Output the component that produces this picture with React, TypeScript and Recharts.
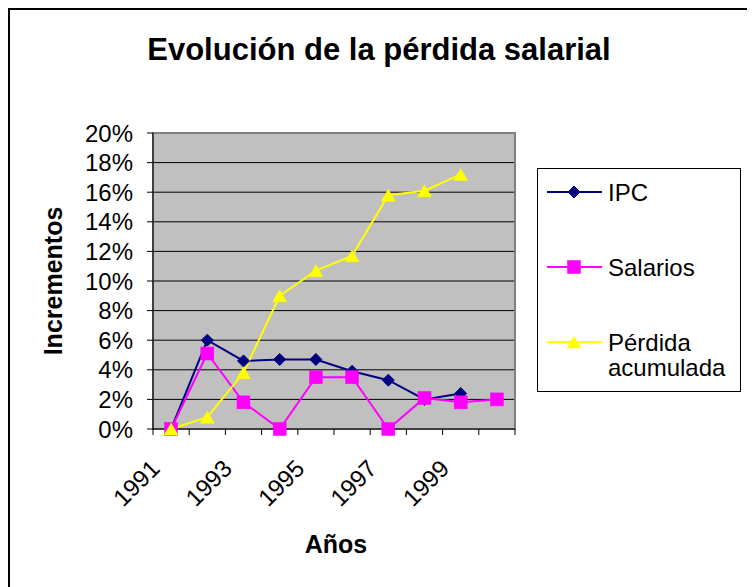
import React from 'react';
import { LineChart, Line, XAxis, YAxis, CartesianGrid, Legend, ReferenceArea } from 'recharts';

const years = ['1991', '1992', '1993', '1994', '1995', '1996', '1997', '1998', '1999', '2000'];
const ipc = [0, 6.0, 4.6, 4.7, 4.7, 3.9, 3.3, 2.0, 2.4, null];
const salarios = [0, 5.1, 1.8, 0, 3.5, 3.5, 0, 2.1, 1.8, 2.0];
const perdida = [0, 0.8, 3.8, 9.0, 10.7, 11.7, 15.8, 16.1, 17.2, null];
const yTicks = [0, 2, 4, 6, 8, 10, 12, 14, 16, 18, 20];

const seriesInfo = [
  { key: 'ipc', name: 'IPC', color: '#000080', shape: 'diamond' },
  { key: 'salarios', name: 'Salarios', color: '#FF00FF', shape: 'square' },
  { key: 'perdida', name: 'Pérdida acumulada', color: '#FFFF00', shape: 'triangle' },
];

const data = years.map((y, i) => ({ year: y, ipc: ipc[i], salarios: salarios[i], perdida: perdida[i] }));

const FONT = 'Liberation Sans, Arial, sans-serif';

function Marker({ shape, cx, cy, color }: any) {
  if (shape === 'diamond') {
    const r = 6;
    return <polygon points={`${cx},${cy - r} ${cx + r},${cy} ${cx},${cy + r} ${cx - r},${cy}`} fill={color} stroke={color} strokeWidth={1} />;
  }
  if (shape === 'square') {
    const s = 6.5;
    return <rect x={cx - s} y={cy - s} width={2 * s} height={2 * s} fill={color} stroke={color} strokeWidth={0.5} />;
  }
  const w = 7, h = 6;
  return <polygon points={`${cx},${cy - h} ${cx + w},${cy + h} ${cx - w},${cy + h}`} fill={color} stroke={color} strokeWidth={0.5} />;
}

const makeDot = (shape: string, color: string) => (props: any) => {
  const { cx, cy, index, value } = props;
  if (cx == null || cy == null || value == null || (Array.isArray(value) && value[1] == null)) return <g key={`d-${shape}-${index}`} />;
  return <g key={`d-${shape}-${index}`}><Marker shape={shape} cx={cx} cy={cy} color={color} /></g>;
};

function XTick(props: any) {
  const { x, y, payload, index } = props;
  const off = payload && payload.offset ? payload.offset : 18.1;
  const last = years.length - 1;
  const lx = x - 10;
  const ly = y + 41;
  return (
    <g>
      <line x1={x - off} x2={x - off} y1={y} y2={y + 6} stroke="#000" strokeWidth={1} />
      {index === last && <line x1={x + off} x2={x + off} y1={y} y2={y + 6} stroke="#000" strokeWidth={1} />}
      {index % 2 === 0 && (
        <text x={lx} y={ly} textAnchor="end" transform={`rotate(-45, ${lx}, ${ly})`} fontFamily={FONT} fontSize={24} fill="#000">
          {payload.value}
        </text>
      )}
    </g>
  );
}

function LegendBox(props: any) {
  const payload = props.payload || [];
  const rows = seriesInfo.map((s, i) => {
    const p = payload.find((q: any) => q.dataKey === s.key);
    return { ...s, label: p ? p.value : s.name, cy: 23 + i * 75 };
  });
  return (
    <div style={{ width: 204, height: 224, border: '1px solid #000', boxSizing: 'border-box', background: '#fff' }}>
      <svg width={202} height={222} style={{ display: 'block' }}>
        {rows.map((r) => {
          const words = r.label.split(' ');
          return (
            <g key={r.key}>
              <line x1={9} x2={64} y1={r.cy} y2={r.cy} stroke={r.color} strokeWidth={2} />
              <Marker shape={r.shape} cx={36} cy={r.cy} color={r.color} />
              {words.map((w: string, wi: number) => (
                <text key={wi} x={70} y={r.cy + 9 + wi * 25} fontFamily={FONT} fontSize={24} fill="#000">{w}</text>
              ))}
            </g>
          );
        })}
      </svg>
    </div>
  );
}

export default function App() {
  return (
    <div style={{ position: 'relative', width: 742, height: 600, border: '2px solid #000', boxSizing: 'border-box', background: '#fff', fontFamily: FONT }}>
      <svg width={738} height={80} style={{ position: 'absolute', left: 0, top: 0 }}>
        <text x={369} y={50} textAnchor="middle" fontFamily={FONT} fontSize={31} fontWeight="bold" fill="#000">Evolución de la pérdida salarial</text>
      </svg>
      <div style={{ position: 'absolute', left: 0, top: 0 }}>
        <LineChart width={738} height={590} data={data} margin={{ top: 123, right: 233, bottom: 111, left: 50 }}>
          <CartesianGrid vertical={false} stroke="#000" strokeWidth={1} fill="#C0C0C0" fillOpacity={1} />
          <ReferenceArea y1={0} y2={20} fill="none" fillOpacity={0} stroke="#808080" strokeWidth={2} ifOverflow="visible" />
          <XAxis
            dataKey="year"
            type="category"
            scale="band"
            interval={0}
            tickLine={false}
            tickSize={0}
            tickMargin={0}
            height={60}
            axisLine={{ stroke: '#000', strokeWidth: 1 }}
            tick={<XTick />}
            label={{
              content: (p: any) => {
                const vb = p.viewBox || { x: 143, y: 419, width: 362 };
                return <text x={vb.x + vb.width / 2 + 2} y={vb.y + 124} textAnchor="middle" fontFamily={FONT} fontSize={25} fontWeight="bold" fill="#000">Años</text>;
              },
            }}
          />
          <YAxis
            type="number"
            domain={[0, 20]}
            ticks={yTicks}
            interval={0}
            width={93}
            tickSize={6}
            tickMargin={14}
            tickLine={{ stroke: '#000' }}
            axisLine={{ stroke: '#000', strokeWidth: 1 }}
            tickFormatter={(v: number) => `${v}%`}
            tick={{ fontFamily: FONT, fontSize: 24, fill: '#000' }}
            label={{
              content: (p: any) => {
                const vb = p.viewBox || { x: 50, y: 123, height: 296 };
                const cx = vb.x + 2;
                const cy = vb.y + vb.height / 2;
                return <text x={cx} y={cy} textAnchor="middle" transform={`rotate(-90, ${cx}, ${cy})`} fontFamily={FONT} fontSize={25} fontWeight="bold" fill="#000">Incrementos</text>;
              },
            }}
          />
          <Legend layout="vertical" align="center" verticalAlign="middle" content={<LegendBox />} wrapperStyle={{ left: 527, top: 158, width: 204, height: 224 }} />
          {seriesInfo.map((s) => (
            <Line
              key={s.key}
              type="linear"
              dataKey={s.key}
              name={s.name}
              stroke={s.color}
              strokeWidth={2}
              dot={makeDot(s.shape, s.color)}
              activeDot={false}
              legendType="line"
              isAnimationActive={false}
            />
          ))}
        </LineChart>
      </div>
    </div>
  );
}
